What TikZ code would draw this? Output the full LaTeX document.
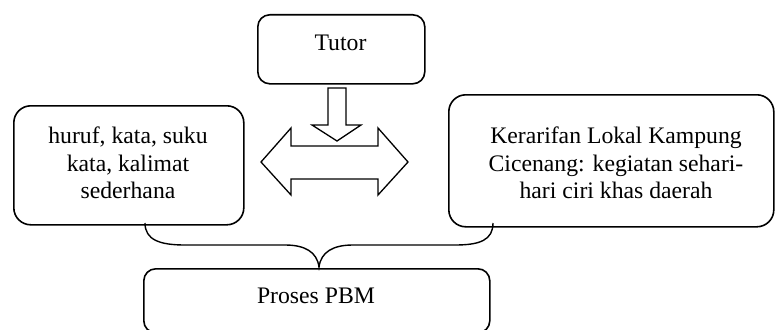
\documentclass[tikz,border=0pt]{standalone}
\usepackage{fontspec}
\setmainfont{Liberation Serif}
\begin{document}
\begin{tikzpicture}[x=1pt,y=-1pt,
  boxline/.style={draw=black, line width=1.6pt, fill=white},
  blockarrow/.style={draw=black, line width=1.3pt, line join=miter, fill=white},
  txt/.style={inner sep=0pt, align=center, font=\fontsize{23.7}{27.5}\selectfont},
  bracepath/.style={draw=black, line width=1.4pt}]
\useasboundingbox (0,0) rectangle (775,329);
% boxes
\node[boxline, rounded corners=12pt, minimum width=167pt, minimum height=69pt, anchor=north west] (tutor) at (257,14) {};
\node[boxline, rounded corners=17pt, minimum width=230pt, minimum height=119pt, anchor=north west] (left) at (13,105) {};
\node[boxline, rounded corners=17pt, minimum width=325pt, minimum height=132pt, anchor=north west] (right) at (448,94) {};
\node[boxline, rounded corners=12pt, minimum width=346pt, minimum height=64pt, anchor=north west] (pbm) at (143,268) {};
% texts
\node[txt, anchor=base] (tutortxt) at (340.5,50) {Tutor};
\node[txt, anchor=north] (lefttxt) at (128,126.8) {huruf, kata, suku\\kata, kalimat\\sederhana};
\node[txt, anchor=north] (righttxt) at (616,126.8) {Kerarifan Lokal Kampung\\Cicenang: kegiatan sehari-\\hari ciri khas daerah};
\node[txt, anchor=base] (pbmtxt) at (316,303) {Proses PBM};
% down block arrow
\draw[blockarrow] (328,88) -- (346,88) -- (346,125) -- (361,125) -- (337,141) -- (312,125) -- (328,125) -- cycle;
% double block arrow
\draw[blockarrow] (261,162) -- (291,128) -- (291,146) -- (378,146) -- (378,128) -- (408,162)
  -- (378,195) -- (378,179) -- (291,179) -- (291,195) -- cycle;
% brace
\coordinate (bl) at (145,223);
\coordinate (br) at (493,223);
\coordinate (bt) at (319,267);
\draw[bracepath] (bl) .. controls (145,240) and (160,245) .. (185,245) -- (285,245)
  .. controls (305,245) and (317,252) .. (bt)
  .. controls (321,252) and (333,245) .. (353,245) -- (455,245)
  .. controls (480,245) and (493,240) .. (br);
\end{tikzpicture}
\end{document}
